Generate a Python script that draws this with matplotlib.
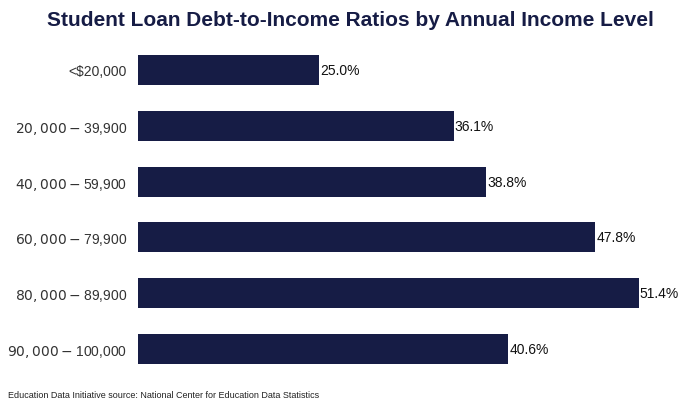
import matplotlib

matplotlib.use("Agg")
import matplotlib.pyplot as plt

plt.rcParams["font.family"] = "Liberation Sans"

income_levels = [
    "<$20,000",
    "$20,000 - $39,900",
    "$40,000 - $59,900",
    "$60,000 - $79,900",
    "$80,000 - $89,900",
    "$90,000 - $100,000",
]
debt_to_income_pct = [25.0, 36.1, 38.8, 47.8, 51.4, 40.6]

NAVY = "#161c45"

fig = plt.figure(figsize=(7, 4.06), dpi=100)
ax = fig.add_axes([138 / 700, 1 - 378 / 406, 532 / 700, 335 / 406])

y = list(range(len(income_levels)))
ax.barh(y, debt_to_income_pct, height=0.54, color=NAVY)
for yi, v in zip(y, debt_to_income_pct):
    ax.text(v + 0.1, yi, f"{v:.1f}%", va="center", ha="left", fontsize=10, color="#111111")

ax.set_yticks(y)
ax.set_yticklabels(income_levels, fontsize=10, color="#333333")
ax.set_ylim(len(income_levels) - 0.5, -0.5)
ax.set_xlim(10, 54)
ax.set_xticks([])
ax.tick_params(axis="y", length=0, pad=8)
for s in ax.spines.values():
    s.set_visible(False)

fig.text(0.5, 1 - 20 / 406, "Student Loan Debt-to-Income Ratios by Annual Income Level",
         ha="center", va="center", fontsize=15, fontweight="bold", color=NAVY)
fig.text(8 / 700, 1 - 396 / 406,
         "Education Data Initiative source: National Center for Education Data Statistics",
         ha="left", va="center", fontsize=6.5, color="#222222")

fig.savefig("out.png", dpi=100)
